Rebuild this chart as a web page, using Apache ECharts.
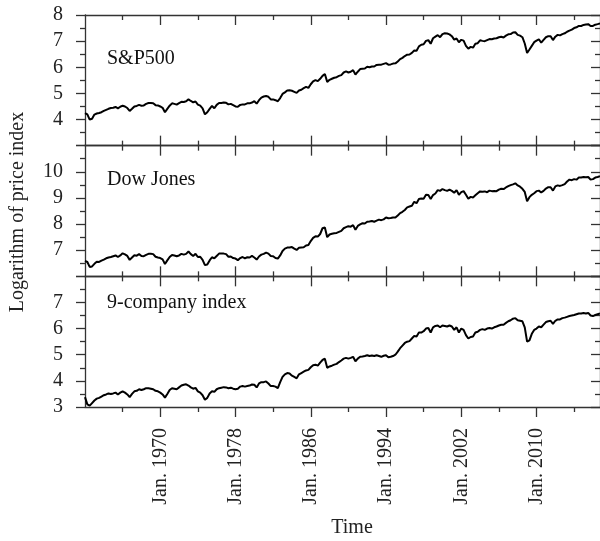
<!DOCTYPE html>
<html><head><meta charset="utf-8">
<script src="https://cdn.jsdelivr.net/npm/echarts@6/dist/echarts.min.js"></script>
<style>html,body{margin:0;padding:0;background:#fff}#c{width:600px;height:541px}</style>
</head><body><div id="c"></div>
<script>
// quarterly observations starting Jan 1962
const startYear = 1962.0;
const perYear = 4;

const spLog = [
4.25,4.20,4.00,4.03, 4.19,4.23,4.25,4.28, 4.33,4.37,4.41,4.44, 4.45,4.48,4.43,4.49,
4.53,4.50,4.44,4.33, 4.41,4.50,4.52,4.56, 4.53,4.54,4.60,4.63, 4.63,4.62,4.55,4.54,
4.50,4.45,4.28,4.41, 4.53,4.62,4.60,4.57, 4.63,4.68,4.67,4.70, 4.77,4.71,4.66,4.69,
4.57,4.53,4.43,4.20, 4.28,4.41,4.52,4.43, 4.56,4.63,4.63,4.65, 4.64,4.58,4.60,4.55,
4.50,4.49,4.56,4.58, 4.58,4.62,4.62,4.65, 4.70,4.61,4.74,4.84, 4.88,4.90,4.87,4.77,
4.77,4.74,4.70,4.82, 4.98,5.04,5.11,5.12, 5.10,5.06,5.02,5.11, 5.14,5.20,5.25,5.21,
5.35,5.46,5.51,5.47, 5.56,5.67,5.74,5.44, 5.52,5.56,5.60,5.62, 5.67,5.70,5.80,5.84,
5.80,5.83,5.89,5.72, 5.83,5.93,5.94,5.95, 6.02,6.00,6.03,6.03, 6.09,6.10,6.10,6.13,
6.16,6.10,6.11,6.14, 6.15,6.22,6.31,6.36, 6.43,6.48,6.49,6.55, 6.64,6.63,6.80,6.86,
6.88,7.01,7.04,6.90, 7.11,7.17,7.23,7.15, 7.27,7.30,7.29,7.26, 7.19,7.06,7.10,6.96,
7.05,7.02,6.82,6.71, 6.78,6.75,6.90,6.92, 7.03,7.01,7.00,7.04, 7.08,7.07,7.10,7.11,
7.15,7.17,7.14,7.21, 7.26,7.27,7.33,7.34, 7.24,7.21,7.15,6.91, 6.55,6.68,6.82,6.96,
7.02,7.07,6.94,7.05, 7.15,7.19,7.19,7.04, 7.17,7.24,7.22,7.27, 7.30,7.36,7.40,7.44,
7.50,7.53,7.58,7.58, 7.62,7.64,7.65,7.58, 7.58,7.63,7.65,7.68
];

const djLog = [
6.59,6.55,6.36,6.38, 6.48,6.56,6.55,6.60, 6.64,6.69,6.72,6.74, 6.77,6.80,6.74,6.80,
6.88,6.84,6.78,6.63, 6.72,6.81,6.79,6.85, 6.78,6.77,6.82,6.86, 6.86,6.85,6.75,6.72,
6.70,6.65,6.47,6.61, 6.74,6.82,6.80,6.77, 6.80,6.86,6.83,6.86, 6.95,6.85,6.78,6.86,
6.74,6.75,6.63,6.43, 6.45,6.61,6.73,6.69, 6.78,6.87,6.87,6.87, 6.85,6.75,6.76,6.70,
6.68,6.62,6.70,6.74, 6.69,6.73,6.72,6.78, 6.72,6.64,6.76,6.83, 6.86,6.91,6.87,6.78,
6.77,6.70,6.68,6.80, 6.97,7.06,7.10,7.10, 7.12,7.06,7.01,7.09, 7.10,7.11,7.18,7.20,
7.35,7.47,7.53,7.52, 7.62,7.84,7.87,7.50, 7.60,7.63,7.65,7.66, 7.70,7.74,7.84,7.88,
7.92,7.90,7.96,7.78, 7.93,7.99,8.03,8.02, 8.09,8.10,8.12,8.09, 8.13,8.17,8.15,8.18,
8.25,8.22,8.23,8.25, 8.25,8.33,8.42,8.47, 8.54,8.64,8.67,8.70, 8.85,8.80,8.96,8.98,
8.97,9.12,9.11,8.96, 9.11,9.17,9.30,9.27, 9.34,9.30,9.27,9.32, 9.27,9.20,9.30,9.12,
9.22,9.26,9.12,8.97, 9.04,9.02,9.10,9.18, 9.25,9.24,9.25,9.22, 9.28,9.26,9.27,9.26,
9.32,9.35,9.34,9.40, 9.45,9.49,9.52,9.56, 9.48,9.43,9.35,9.23, 8.87,9.03,9.12,9.18,
9.26,9.28,9.21,9.27, 9.36,9.41,9.41,9.28, 9.44,9.48,9.46,9.49, 9.53,9.63,9.70,9.68,
9.72,9.70,9.78,9.78, 9.80,9.79,9.80,9.70, 9.72,9.78,9.80,9.83
];

const nineLog = [
3.38,3.10,3.05,3.15, 3.25,3.32,3.35,3.40, 3.45,3.48,3.52,3.50, 3.52,3.55,3.48,3.55,
3.60,3.55,3.48,3.38, 3.50,3.60,3.62,3.68, 3.65,3.68,3.72,3.72, 3.70,3.68,3.62,3.60,
3.55,3.48,3.36,3.50, 3.65,3.72,3.70,3.68, 3.75,3.82,3.85,3.87, 3.82,3.75,3.70,3.73,
3.60,3.55,3.45,3.28, 3.35,3.52,3.60,3.58, 3.68,3.72,3.74,3.76, 3.75,3.72,3.74,3.70,
3.68,3.70,3.78,3.80, 3.78,3.80,3.82,3.86, 3.85,3.75,3.90,3.95, 3.95,3.98,3.90,3.80,
3.80,3.78,3.72,3.95, 4.15,4.25,4.30,4.28, 4.20,4.15,4.10,4.25, 4.30,4.35,4.40,4.42,
4.52,4.60,4.62,4.58, 4.70,4.80,4.85,4.50, 4.55,4.58,4.62,4.65, 4.72,4.78,4.85,4.88,
4.85,4.88,4.92,4.75, 4.85,4.92,4.93,4.95, 4.98,4.95,4.97,4.95, 4.98,4.95,4.92,4.96,
4.98,4.90,4.92,4.95, 5.00,5.12,5.25,5.35, 5.45,5.50,5.52,5.62, 5.72,5.70,5.85,5.85,
5.90,6.00,6.02,5.85, 6.05,6.10,6.12,6.05, 6.12,6.10,6.08,6.12, 6.08,5.95,6.05,5.85,
6.00,5.95,5.75,5.62, 5.68,5.70,5.85,5.88, 5.95,5.98,5.95,6.00, 6.02,6.00,6.05,6.08,
6.12,6.15,6.15,6.22, 6.28,6.32,6.38,6.40, 6.32,6.30,6.28,6.05, 5.50,5.55,5.80,5.95,
6.00,6.08,6.05,6.15, 6.25,6.28,6.30,6.18, 6.30,6.35,6.35,6.40, 6.42,6.45,6.48,6.50,
6.52,6.55,6.58,6.58, 6.60,6.58,6.60,6.50, 6.48,6.52,6.55,6.58
];

const panelNames = ['S&P500', 'Dow Jones', '9-company index'];
const panelSeries = [spLog, djLog, nineLog];
const panelMin = [3, 6, 3];
const panelMax = [8, 11, 8];
const majorYears = [1970, 1978, 1986, 1994, 2002, 2010];
const minorYears = [1966, 1974, 1982, 1990, 1998, 2006, 2014];
const yTitle = 'Logarithm of price index';
const xTitle = 'Time';
const xMin = 1962.0, xMax = 2016.75;

const FONT = '"Liberation Serif", "DejaVu Serif", serif';
const AX = '#333';
const panelTop = [15, 145.67, 276.33];
const panelH = 130.67;

const grid = [], xAxis = [], yAxis = [], series = [], graphic = [];
for (let i = 0; i < 3; i++) {
  grid.push({left: 85, width: 517, top: panelTop[i], height: panelH, containLabel: false});
  const last = i === 2;
  const base = {type: 'value', gridIndex: i, min: xMin, max: xMax, splitLine: {show: false}};
  // bottom major
  xAxis.push(Object.assign({}, base, {
    position: 'bottom',
    axisLine: {show: true, onZero: false, lineStyle: {color: AX, width: 1.3}},
    axisTick: {show: true, customValues: majorYears, inside: !last, length: 10, lineStyle: {color: AX, width: 1.3}},
    axisLabel: {show: last, customValues: majorYears, rotate: 90, margin: 21,
      formatter: v => 'Jan. ' + v, fontFamily: FONT, fontSize: 20, color: '#222'}
  }));
  // bottom minor
  xAxis.push(Object.assign({}, base, {
    position: 'bottom',
    axisLine: {show: false, onZero: false},
    axisTick: {show: true, customValues: minorYears, inside: !last, length: 5, lineStyle: {color: AX, width: 1.3}},
    axisLabel: {show: false}
  }));
  // top major
  xAxis.push(Object.assign({}, base, {
    position: 'top',
    axisLine: {show: true, onZero: false, lineStyle: {color: AX, width: 1.3}},
    axisTick: {show: true, customValues: majorYears, inside: true, length: 10, lineStyle: {color: AX, width: 1.3}},
    axisLabel: {show: false}
  }));
  // top minor
  xAxis.push(Object.assign({}, base, {
    position: 'top',
    axisLine: {show: false, onZero: false},
    axisTick: {show: true, customValues: minorYears, inside: true, length: 5, lineStyle: {color: AX, width: 1.3}},
    axisLabel: {show: false}
  }));
  const ybase = {type: 'value', gridIndex: i, min: panelMin[i], max: panelMax[i], interval: 1,
    splitLine: {show: false}, minorSplitLine: {show: false}};
  yAxis.push(Object.assign({}, ybase, {
    position: 'left',
    axisLine: {show: true, onZero: false, lineStyle: {color: AX, width: 1.3}},
    axisTick: {show: true, inside: false, length: 9, lineStyle: {color: AX, width: 1.3}},
    minorTick: {show: true, splitNumber: 2, length: 5, lineStyle: {color: AX, width: 1.3}},
    axisLabel: {show: true, margin: 22, fontFamily: FONT, fontSize: 20, color: '#222',
      showMinLabel: i === 2, showMaxLabel: i === 0}
  }));
  yAxis.push(Object.assign({}, ybase, {
    position: 'right',
    axisLine: {show: true, onZero: false, lineStyle: {color: AX, width: 1.3}},
    axisTick: {show: true, inside: true, length: 9, lineStyle: {color: AX, width: 1.3}},
    minorTick: {show: true, splitNumber: 2, length: 5, lineStyle: {color: AX, width: 1.3}},
    axisLabel: {show: false}
  }));
  series.push({
    type: 'line', xAxisIndex: 4 * i, yAxisIndex: 2 * i,
    data: panelSeries[i].map((v, k) => [startYear + k / perYear, v]),
    showSymbol: false, symbol: 'none', clip: true,
    lineStyle: {color: '#000', width: 2}
  });
}
const labelY = [61, 181.5, 305];
for (let i = 0; i < 3; i++) {
  graphic.push({type: 'text', left: 107, top: labelY[i] - 12,
    style: {text: panelNames[i], font: '20px ' + FONT, fill: '#111'}});
}
graphic.push({type: 'text', x: 18, y: 212, rotation: Math.PI / 2,
  style: {text: yTitle, font: '20px ' + FONT, fill: '#222', textAlign: 'center', textVerticalAlign: 'middle'}});
graphic.push({type: 'text', x: 352, y: 528,
  style: {text: xTitle, font: '20px ' + FONT, fill: '#222', textAlign: 'center', textVerticalAlign: 'middle'}});

const chart = echarts.init(document.getElementById('c'), null, {renderer: 'canvas'});
chart.setOption({animation: false, backgroundColor: '#fff', grid, xAxis, yAxis, series, graphic});
</script></body></html>
